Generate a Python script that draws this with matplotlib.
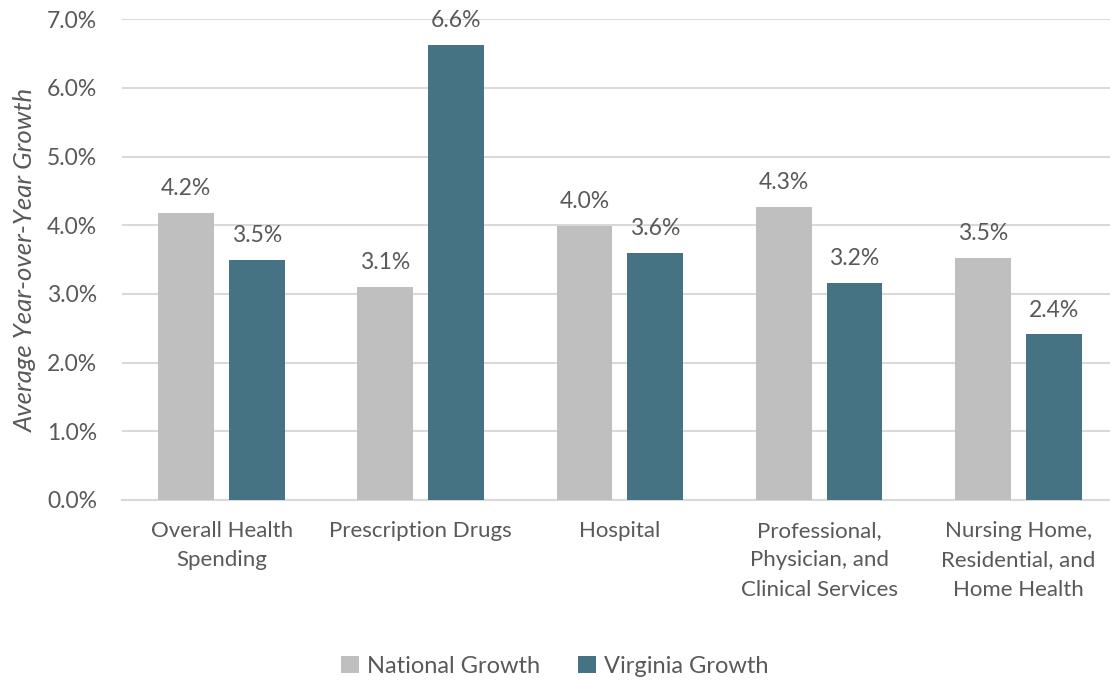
import numpy as np
import matplotlib
matplotlib.use("Agg")
import matplotlib.pyplot as plt
from matplotlib.ticker import FuncFormatter

plt.rcParams['font.family'] = ['Lato', 'DejaVu Sans']

# average year-over-year growth, percent
categories = ['Overall Health\nSpending', 'Prescription Drugs', 'Hospital',
              'Professional,\nPhysician, and\nClinical Services',
              'Nursing Home,\nResidential, and\nHome Health']
national = [4.18, 3.10, 3.99, 4.26, 3.52]
virginia = [3.50, 6.63, 3.60, 3.16, 2.41]
series_names = ['National Growth', 'Virginia Growth']

GREY = '#BFBFBF'
TEAL = '#467383'
TEXT = '#595959'
GRID = '#D9D9D9'

fig = plt.figure(figsize=(11.1, 6.83), dpi=100)
# right edge of the plot runs slightly past the canvas
ax = fig.add_axes([0.110, 0.268, 0.897, 0.704])

x = np.arange(len(categories))
w = 0.281
off = 0.178
b1 = ax.bar(x - off, national, w, color=GREY, label=series_names[0], zorder=3)
b2 = ax.bar(x + off, virginia, w, color=TEAL, label=series_names[1], zorder=3)

for bars, vals in ((b1, national), (b2, virginia)):
    for bar, v in zip(bars, vals):
        ax.annotate(f'{v:.1f}%', (bar.get_x() + bar.get_width() / 2, v),
                    xytext=(0, 10), textcoords='offset points',
                    ha='center', va='bottom', fontsize=16.5, color=TEXT)

ax.set_ylim(0, 7)
ax.set_xlim(-0.5, len(categories) - 0.5)
ax.set_yticks(np.arange(0, 8, 1))
ax.yaxis.set_major_formatter(FuncFormatter(lambda v, p: f'{v:.1f}%'))
ax.grid(axis='y', color=GRID, linewidth=1.5, zorder=0)
for s in ['top', 'right', 'left']:
    ax.spines[s].set_visible(False)
ax.spines['bottom'].set_color(GRID)
ax.spines['bottom'].set_linewidth(1.5)
ax.tick_params(axis='both', length=0, colors=TEXT, labelsize=16.5)
ax.tick_params(axis='y', pad=18)
ax.tick_params(axis='x', pad=15, labelsize=16)
ax.set_xticks(x)
ax.set_xticklabels(categories, linespacing=1.6)
ax.set_ylabel('Average Year-over-Year Growth', fontsize=18.5, style='italic',
              color=TEXT, labelpad=7)

leg = fig.legend(loc='lower center', bbox_to_anchor=(0.5, -0.022), ncol=2,
                 frameon=False, fontsize=17, handlelength=0.75, handleheight=0.75,
                 handletextpad=0.35, columnspacing=1.6, labelcolor=TEXT)

fig.savefig('out.png', dpi=100)
